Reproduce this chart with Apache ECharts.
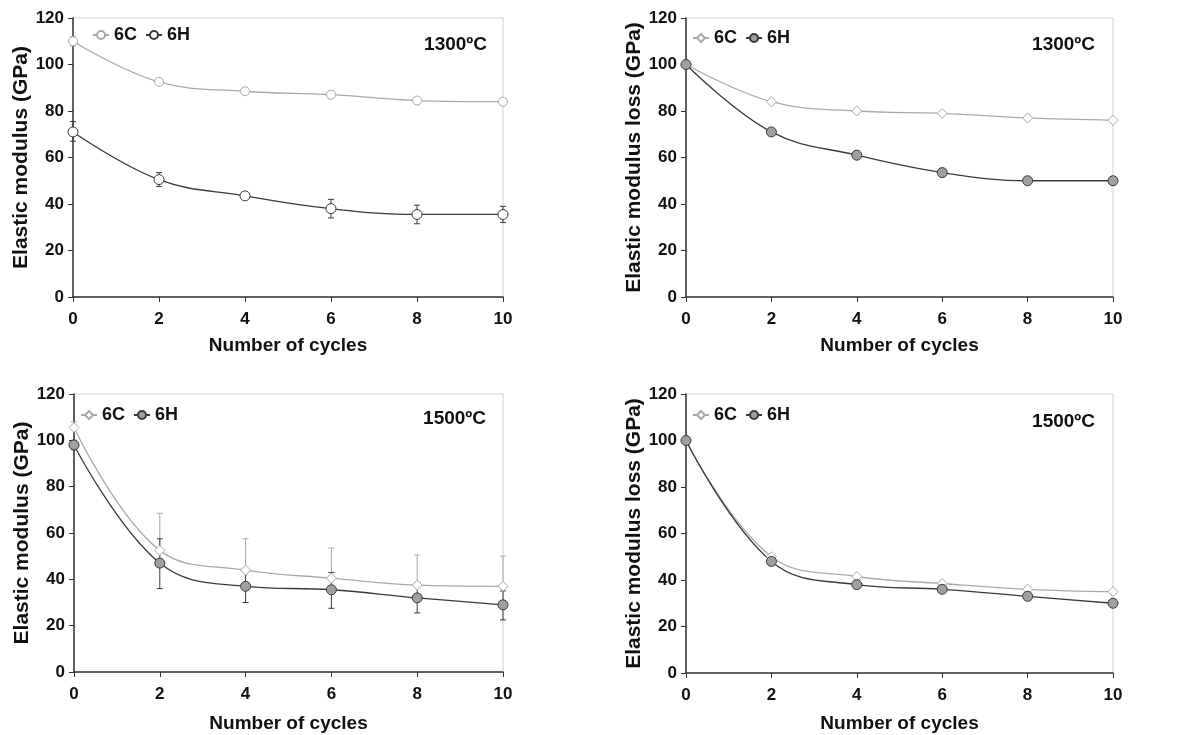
<!DOCTYPE html>
<html><head><meta charset="utf-8">
<script src="https://cdn.jsdelivr.net/npm/echarts@6/dist/echarts.min.js"></script>
<style>html,body{margin:0;padding:0;background:#fff}#c{width:1204px;height:735px}</style>
</head><body><div id="c"></div>
<script>
// ---- data ----
const cycles = [0, 2, 4, 6, 8, 10];
const yTicks = [0, 20, 40, 60, 80, 100, 120];

// Panel 1: elastic modulus, 1300ºC
const p1_6C = [110, 92.5, 88.5, 87, 84.5, 84];
const p1_6C_low = [108, 91, 87.5, 85.5, 83, 83.5];
const p1_6C_high = [112, 94, 89.5, 88.5, 86, 84.5];
const p1_6H = [71, 50.5, 43.5, 38, 35.5, 35.5];
const p1_6H_low = [67, 47.5, 42.5, 34, 31.5, 32];
const p1_6H_high = [75.5, 53.5, 44.5, 42, 39.5, 39];

// Panel 2: elastic modulus loss, 1300ºC
const p2_6C = [100, 84, 80, 79, 77, 76];
const p2_6H = [100, 71, 61, 53.5, 50, 50];

// Panel 3: elastic modulus, 1500ºC
const p3_6C = [105.5, 52.5, 44, 40.5, 37.5, 37];
const p3_6C_high = [108, 68.5, 57.5, 53.5, 50.5, 50];
const p3_6H = [98, 47, 37, 35.5, 32, 29];
const p3_6H_low = [96, 36, 30, 27.5, 25.5, 22.5];
const p3_6H_high = [100, 57.5, 43.5, 43, 38.5, 35];

// Panel 4: elastic modulus loss, 1500ºC
const p4_6C = [100, 50, 41.5, 38.5, 36, 35];
const p4_6H = [100, 48, 38, 36, 33, 30];

const xTitle = 'Number of cycles';
const yTitles = ['Elastic modulus (GPa)', 'Elastic modulus loss (GPa)', 'Elastic modulus (GPa)', 'Elastic modulus loss (GPa)'];
const tempLabels = ['1300ºC', '1300ºC', '1500ºC', '1500ºC'];

// ---- styling ----
const FONT = 'Liberation Sans, Arial, sans-serif';
const LIGHT = '#a9a9a9';
const DARK = '#3a3a3a';
const grids = [
  {left: 73, top: 18, width: 430, height: 279},
  {left: 686, top: 18, width: 427, height: 279},
  {left: 74, top: 394, width: 429, height: 278},
  {left: 686, top: 394, width: 427, height: 279}
];
const legendPos = [
  {left: 87, top: 21}, {left: 687, top: 24}, {left: 75, top: 401}, {left: 687, top: 401}
];
const titlePos = [
  {right: 712, top: 30}, {right: 104, top: 30}, {right: 713, top: 404}, {right: 104, top: 407}
];
const xNameGaps = [39, 39, 42, 41];

const pairs = arr => arr.map((v, i) => [cycles[i], v]);
const errData = (lo, hi) => cycles.map((c, i) => [c, lo[i], hi[i]]);

function errSeries(idx, lo, hi, color, name) {
  return {
    type: 'custom', name: name, xAxisIndex: idx, yAxisIndex: idx, z: 1, silent: true,
    data: errData(lo, hi),
    renderItem: function (params, api) {
      const x = api.value(0);
      const a = api.coord([x, api.value(1)]);
      const b = api.coord([x, api.value(2)]);
      const w = 3;
      const st = {stroke: color, lineWidth: 1};
      return {type: 'group', children: [
        {type: 'line', shape: {x1: a[0], y1: a[1], x2: b[0], y2: b[1]}, style: st},
        {type: 'line', shape: {x1: a[0] - w, y1: a[1], x2: a[0] + w, y2: a[1]}, style: st},
        {type: 'line', shape: {x1: b[0] - w, y1: b[1], x2: b[0] + w, y2: b[1]}, style: st}
      ]};
    }
  };
}

function lineSeries(idx, name, data, lineColor, symbol, fill, stroke, size) {
  return {
    type: 'line', name: name, xAxisIndex: idx, yAxisIndex: idx, data: pairs(data),
    smooth: 0.4, symbol: symbol, symbolSize: size, showAllSymbol: true, z: 3,
    lineStyle: {color: lineColor, width: 1.3},
    itemStyle: {color: fill, borderColor: stroke, borderWidth: 1},
    emphasis: {disabled: true}
  };
}

// unique series names per panel (suffix spaces), legend shows trimmed text
const nm = (base, i) => base + ' '.repeat(i);

const series = [];
// Panel 1
series.push(errSeries(0, p1_6C_low, p1_6C_high, LIGHT, 'e1c'));
series.push(errSeries(0, p1_6H_low, p1_6H_high, DARK, 'e1h'));
series.push(lineSeries(0, nm('6C', 0), p1_6C, LIGHT, 'circle', '#fff', LIGHT, 9));
series.push(lineSeries(0, nm('6H', 0), p1_6H, DARK, 'circle', '#fff', DARK, 10));
// Panel 2
series.push(lineSeries(1, nm('6C', 1), p2_6C, LIGHT, 'diamond', '#fff', LIGHT, 10));
series.push(lineSeries(1, nm('6H', 1), p2_6H, DARK, 'circle', '#a0a0a0', DARK, 10));
// Panel 3
series.push(errSeries(2, p3_6C, p3_6C_high, LIGHT, 'e3c'));
series.push(errSeries(2, p3_6H_low, p3_6H_high, DARK, 'e3h'));
series.push(lineSeries(2, nm('6C', 2), p3_6C, LIGHT, 'diamond', '#fff', LIGHT, 10));
series.push(lineSeries(2, nm('6H', 2), p3_6H, DARK, 'circle', '#a0a0a0', DARK, 10));
// Panel 4
series.push(lineSeries(3, nm('6C', 3), p4_6C, LIGHT, 'diamond', '#fff', LIGHT, 10));
series.push(lineSeries(3, nm('6H', 3), p4_6H, DARK, 'circle', '#a0a0a0', DARK, 10));

const xAxes = grids.map((g, i) => ({
  type: 'value', gridIndex: i, min: 0, max: 10, interval: 2,
  name: xTitle, nameLocation: 'middle', nameGap: xNameGaps[i],
  nameTextStyle: {fontFamily: FONT, fontWeight: 'bold', fontSize: 19, color: '#111'},
  axisLine: {show: true, onZero: false, lineStyle: {color: '#333', width: 1.5}},
  axisTick: {show: true, length: 5, lineStyle: {color: '#333'}},
  axisLabel: {fontFamily: FONT, fontWeight: 'bold', fontSize: 17, color: '#111', margin: 14},
  splitLine: {show: false}
}));
const yAxes = grids.map((g, i) => ({
  type: 'value', gridIndex: i, min: 0, max: 120, interval: 20,
  name: yTitles[i], nameLocation: 'middle', nameGap: 41,
  nameTextStyle: {fontFamily: FONT, fontWeight: 'bold', fontSize: 21, color: '#111'},
  axisLine: {show: true, onZero: false, lineStyle: {color: '#333', width: 1.5}},
  axisTick: {show: true, length: 5, lineStyle: {color: '#333'}},
  axisLabel: {fontFamily: FONT, fontWeight: 'bold', fontSize: 17, color: '#111', margin: 9},
  splitLine: {show: false}
}));

const legends = grids.map((g, i) => ({
  left: legendPos[i].left, top: legendPos[i].top, orient: 'horizontal',
  data: [nm('6C', i), nm('6H', i)],
  itemWidth: 16, itemHeight: 10, itemGap: 8,
  formatter: n => n.trim(),
  textStyle: {fontFamily: FONT, fontWeight: 'bold', fontSize: 18, color: '#111'},
  selectedMode: false
}));

const titles = grids.map((g, i) => ({
  text: tempLabels[i], right: titlePos[i].right, top: titlePos[i].top,
  textStyle: {fontFamily: FONT, fontWeight: 'bold', fontSize: 19, color: '#111'}
}));

const chart = echarts.init(document.getElementById('c'), null, {renderer: 'canvas'});
chart.setOption({
  animation: false,
  backgroundColor: '#fff',
  title: titles,
  legend: legends,
  grid: grids.map(g => Object.assign({show: true, borderColor: '#cfcfcf', borderWidth: 1, backgroundColor: 'transparent'}, g)),
  xAxis: xAxes,
  yAxis: yAxes,
  series: series
});
</script></body></html>
